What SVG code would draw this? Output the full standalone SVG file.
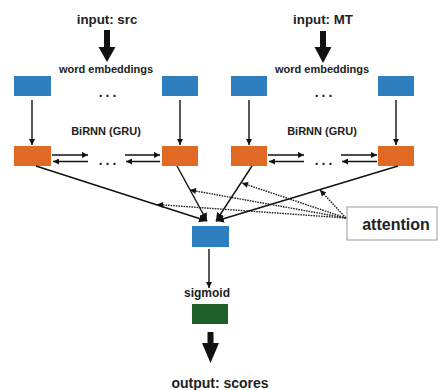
<svg xmlns="http://www.w3.org/2000/svg" width="440" height="390" viewBox="0 0 440 390">
  <defs>
    <style>
      .lbl { font-family: "Liberation Sans", Arial, sans-serif; font-weight: bold; fill: #222; text-anchor: middle; }
      .emb { fill: #2f7fbf; }
      .rnn { fill: #e06a24; }
      .out { fill: #1f5e29; }
      .ln { stroke: #111; stroke-width: 1.4; fill: none; }
      .dot { stroke: #222; stroke-width: 1.4; fill: none; stroke-dasharray: 1.6 1; }
      .dots { font-family: "Liberation Sans", Arial, sans-serif; font-weight: bold; font-size: 14px; fill: #222; text-anchor: middle; letter-spacing: 3px; }
    </style>
    <marker id="ah" viewBox="0 0 10 10" refX="10" refY="5" markerWidth="6" markerHeight="6" markerUnits="userSpaceOnUse" orient="auto">
      <path d="M0,0 L10,5 L0,10 z" fill="#111"/>
    </marker>
    <marker id="ahBig" viewBox="0 0 10 10" refX="10" refY="5" markerWidth="8" markerHeight="8" markerUnits="userSpaceOnUse" orient="auto">
      <path d="M0,0 L10,5 L0,10 z" fill="#111"/>
    </marker>
    <marker id="ahDot" viewBox="0 0 10 10" refX="10" refY="5" markerWidth="7" markerHeight="6" markerUnits="userSpaceOnUse" orient="auto">
      <path d="M0,0 L10,5 L0,10 z" fill="#111"/>
    </marker>
  </defs>

  <rect width="440" height="390" fill="#fff"/>

  <!-- labels -->
  <g id="labels">
    <text class="lbl" x="107" y="24" font-size="13.3">input: src</text>
    <text class="lbl" x="323" y="24" font-size="13.3">input: MT</text>
    <text class="lbl" x="106" y="73" font-size="11">word embeddings</text>
    <text class="lbl" x="322" y="73" font-size="11">word embeddings</text>
    <text class="lbl" x="106" y="135" font-size="11">BiRNN (GRU)</text>
    <text class="lbl" x="322" y="135" font-size="11">BiRNN (GRU)</text>
    <text class="lbl" x="207" y="297" font-size="12">sigmoid</text>
    <text class="lbl" x="220" y="388" font-size="14">output: scores</text>
    <text class="dots" x="109" y="97">...</text>
    <text class="dots" x="325" y="97">...</text>
    <text class="dots" x="109" y="165">...</text>
    <text class="dots" x="325" y="165">...</text>
  </g>

  <!-- thick input / output arrows -->
  <g id="io-arrows" fill="#111">
    <path d="M104,30 H110 V47 H115.5 L107,62 L98.5,47 H104 z"/>
    <path d="M320,31 H326 V47 H331.5 L323,63 L314.5,47 H320 z"/>
    <path d="M207.5,332 H213.5 V343 H219 L210.5,363 L202,343 H207.5 z"/>
  </g>

  <!-- source embeddings -->
  <g id="emb-src-1"><rect class="emb" x="14" y="76" width="37" height="20"/></g>
  <g id="emb-src-n"><rect class="emb" x="162" y="76" width="36" height="20"/></g>
  <!-- MT embeddings -->
  <g id="emb-mt-1"><rect class="emb" x="231" y="76" width="36" height="20"/></g>
  <g id="emb-mt-n"><rect class="emb" x="378" y="76" width="36" height="20"/></g>

  <!-- BiRNN states -->
  <g id="rnn-src-1"><rect class="rnn" x="14" y="146" width="37" height="20"/></g>
  <g id="rnn-src-n"><rect class="rnn" x="162" y="146" width="36" height="20"/></g>
  <g id="rnn-mt-1"><rect class="rnn" x="231" y="146" width="36" height="20"/></g>
  <g id="rnn-mt-n"><rect class="rnn" x="378" y="146" width="36" height="20"/></g>

  <!-- pooled vector and output -->
  <g id="pooled"><rect class="emb" x="192" y="226" width="37" height="21"/></g>
  <g id="sigmoid-out"><rect class="out" x="192" y="304" width="36" height="20"/></g>

  <!-- attention box -->
  <g id="attention">
    <rect x="347" y="207" width="90" height="33" fill="#fff" stroke="#9a9a9a" stroke-width="1"/>
    <text class="lbl" x="396" y="230" font-size="16">attention</text>
  </g>

  <!-- connectors -->
  <g id="connectors">
    <!-- embedding to RNN -->
    <line class="ln" x1="32" y1="100" x2="32" y2="145" marker-end="url(#ah)"/>
    <line class="ln" x1="180" y1="100" x2="180" y2="145" marker-end="url(#ah)"/>
    <line class="ln" x1="249" y1="100" x2="249" y2="145" marker-end="url(#ah)"/>
    <line class="ln" x1="396" y1="100" x2="396" y2="145" marker-end="url(#ah)"/>

    <!-- recurrent forward / backward arrows -->
    <line class="ln" x1="52" y1="155" x2="88" y2="155" marker-end="url(#ah)"/>
    <line class="ln" x1="88" y1="161.5" x2="53" y2="161.5" marker-end="url(#ah)"/>
    <line class="ln" x1="125" y1="155" x2="160" y2="155" marker-end="url(#ah)"/>
    <line class="ln" x1="160" y1="161.5" x2="126" y2="161.5" marker-end="url(#ah)"/>
    <line class="ln" x1="268" y1="155" x2="304" y2="155" marker-end="url(#ah)"/>
    <line class="ln" x1="304" y1="161.5" x2="269" y2="161.5" marker-end="url(#ah)"/>
    <line class="ln" x1="341" y1="155" x2="377" y2="155" marker-end="url(#ah)"/>
    <line class="ln" x1="377" y1="161.5" x2="342" y2="161.5" marker-end="url(#ah)"/>

    <!-- states to pooled vector -->
    <line class="ln" x1="36" y1="166" x2="207" y2="221" marker-end="url(#ahBig)"/>
    <line class="ln" x1="177" y1="166" x2="207" y2="221" marker-end="url(#ahBig)"/>
    <line class="ln" x1="252" y1="166" x2="216" y2="221" marker-end="url(#ahBig)"/>
    <line class="ln" x1="398" y1="166" x2="216" y2="221" marker-end="url(#ahBig)"/>

    <!-- attention weights -->
    <line class="dot" x1="346" y1="218" x2="157" y2="204.5" marker-end="url(#ahDot)"/>
    <line class="dot" x1="346" y1="218" x2="190" y2="190" marker-end="url(#ahDot)"/>
    <line class="dot" x1="346" y1="218" x2="242" y2="183" marker-end="url(#ahDot)"/>
    <line class="dot" x1="346" y1="218" x2="320" y2="190" marker-end="url(#ahDot)"/>

    <!-- pooled to sigmoid -->
    <line class="ln" x1="209" y1="249" x2="209" y2="288" marker-end="url(#ah)"/>
  </g>
</svg>
